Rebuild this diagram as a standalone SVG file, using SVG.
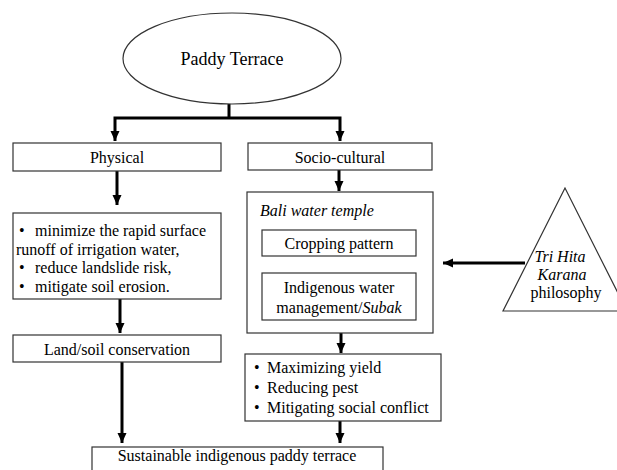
<svg xmlns="http://www.w3.org/2000/svg" width="617" height="470" viewBox="0 0 617 470">
<style>
  .box { fill: #ffffff; stroke: #333333; stroke-width: 1.2; }
  .t { font-family: "Liberation Serif", "Times New Roman", serif; font-size: 16px; fill: #000000; }
  .c { text-anchor: middle; }
  .i { font-style: italic; }
  .arr { fill: none; stroke: #000000; stroke-width: 3; marker-end: url(#ah); }
  .ln { fill: none; stroke: #000000; stroke-width: 3; }
</style>
<defs>
  <marker id="ah" markerUnits="userSpaceOnUse" markerWidth="10" markerHeight="10" refX="10" refY="5" orient="auto">
    <path d="M0,0.5 L10,5 L0,9.5 z" fill="#000000"/>
  </marker>
</defs>
<rect width="617" height="470" fill="#ffffff"/>

<g id="connectors">
  <path class="ln" d="M229,104 V118"/>
  <path class="arr" d="M229,118 H115 V141"/>
  <path class="arr" d="M229,118 H340 V141"/>
  <path class="arr" d="M117,171 V205"/>
  <path class="arr" d="M120,299 V333"/>
  <path class="arr" d="M122,362 V443"/>
  <path class="arr" d="M339,170 V191"/>
  <path class="arr" d="M341,333 V353"/>
  <path class="arr" d="M340,421 V443"/>
  <path class="arr" d="M525,263 H443"/>
</g>

<g id="paddy-terrace">
  <ellipse class="box" cx="232" cy="58.5" rx="109" ry="45.5"/>
  <text class="t c" x="232" y="65" style="font-size:18px">Paddy Terrace</text>
</g>

<g id="physical">
  <rect class="box" x="13" y="143" width="208" height="28"/>
  <text class="t c" x="117" y="163">Physical</text>
</g>

<g id="socio-cultural">
  <rect class="box" x="248" y="143" width="184" height="27"/>
  <text class="t c" x="340" y="163">Socio-cultural</text>
</g>

<g id="physical-effects">
  <rect class="box" x="13" y="213" width="208" height="86"/>
  <text class="t" x="19" y="236">•</text>
  <text class="t" x="35" y="236">minimize the rapid surface</text>
  <text class="t" x="16" y="254.5">runoff of irrigation water,</text>
  <text class="t" x="19" y="273">•</text>
  <text class="t" x="35" y="273">reduce landslide risk,</text>
  <text class="t" x="19" y="291.5">•</text>
  <text class="t" x="35" y="291.5">mitigate soil erosion.</text>
</g>

<g id="land-soil">
  <rect class="box" x="13" y="335" width="208" height="27"/>
  <text class="t c" x="117" y="355">Land/soil conservation</text>
</g>

<g id="bali-water-temple">
  <rect class="box" x="247" y="192" width="186" height="141"/>
  <text class="t i" x="260" y="216">Bali water temple</text>
</g>

<g id="cropping-pattern">
  <rect class="box" x="262" y="230" width="154" height="26"/>
  <text class="t c" x="339" y="249">Cropping pattern</text>
</g>

<g id="indigenous-water">
  <rect class="box" x="262" y="273" width="154" height="47"/>
  <text class="t c" x="339" y="293">Indigenous water</text>
  <text class="t c" x="339" y="313">management/<tspan class="i">Subak</tspan></text>
</g>

<g id="socio-effects">
  <rect class="box" x="245" y="354" width="196" height="67"/>
  <text class="t" x="254" y="373">•</text>
  <text class="t" x="267" y="373">Maximizing yield</text>
  <text class="t" x="254" y="393">•</text>
  <text class="t" x="267" y="393">Reducing pest</text>
  <text class="t" x="254" y="413">•</text>
  <text class="t" x="267" y="413">Mitigating social conflict</text>
</g>

<g id="sustainable">
  <rect class="box" x="92" y="447" width="291" height="30"/>
  <text class="t c" x="237" y="461">Sustainable indigenous paddy terrace</text>
</g>

<g id="tri-hita-karana">
  <polygon class="box" points="565,188 503,311 627,311"/>
  <text class="t c i" x="560" y="262">Tri Hita</text>
  <text class="t c i" x="562" y="280">Karana</text>
  <text class="t c" x="566" y="298">philosophy</text>
</g>
</svg>
